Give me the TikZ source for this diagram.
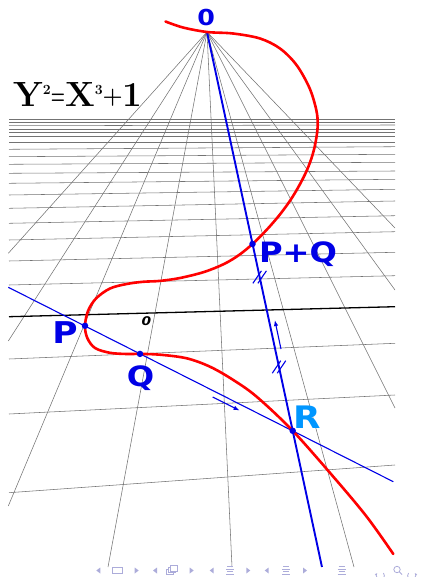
\documentclass[tikz,border=0pt]{standalone}
\usepackage{fontspec}
\usetikzlibrary{arrows.meta,calc}
\newfontfamily\lblfont[FakeStretch=1.15]{DejaVu Sans}
\newcommand\lblat[1]{\lblfont\bfseries\fontsize{#1}{#1}\selectfont}
\newcommand\supat[1]{\raisebox{12pt}{\fontsize{14}{14}\selectfont #1}}
\definecolor{ptblue}{RGB}{0,0,230}
\definecolor{rblue}{RGB}{0,150,255}
\definecolor{navcol}{RGB}{172,172,218}

\begin{document}
\begin{tikzpicture}[x=1pt, y=-1pt,
  gridln/.style={black!55, line width=0.55pt},
  axisln/.style={black, line width=1.3pt},
  curve/.style={red, line width=2.6pt, line cap=round},
  vline/.style={ptblue, line width=1.9pt},
  secant/.style={ptblue, line width=1.1pt},
  pt/.style={circle, fill=ptblue, inner sep=0pt, minimum size=6.5pt},
  lbl/.style={text=ptblue, font=\lblat{#1}, inner sep=0pt, anchor=base},
  lbl/.default=30,
  tick/.style={ptblue, line width=1.1pt},
  dirarrow/.style={ptblue, line width=1.1pt, -{Latex[length=6pt,width=4.5pt]}},
  >=Latex
]
\useasboundingbox (0,0) rectangle (420,577);

% points of the curve
\coordinate (O) at (207,32);
\coordinate (P) at (85,325.8);
\coordinate (Q) at (140,353.9);
\coordinate (R) at (292.7,430.8);
\coordinate (PQ) at (252.5,244);
\coordinate (vend) at ($(O)!1.3415!(R)$);
\coordinate (sa) at (8.3,287.3);
\coordinate (sb) at (393.3,481.7);
\coordinate (ax1) at (9,316.7);
\coordinate (ax2) at (395,306.7);

% grid
\foreach \yl/\yr in {119.3/119.3,122.7/122.7,125.7/125,129/129,132.3/132.3,
  136.7/136.7,142.3/142.3,149.3/146.7,156.7/154.3,164.3/162.3,173.3/171,
  183.3/179.3,195/189.3,208.3/201,223.3/215.7,240/231.7,261/252.3,285/275.7,
  359/343.3,414/395,492.7/465}
  \draw[gridln] (9,\yl) -- (395,\yr);
\foreach \ex/\ey in {8.3/253.3,8.3/341,8.3/506,108/567,232/567,354/567,
  395/408,395/290,395/228}
  \draw[gridln] (O) -- (\ex,\ey);
\draw[axisln] (ax1) -- (ax2);

% chord through P and Q, vertical line through R
\draw[secant] (sa) -- (sb);
\draw[vline] (O) -- (vend);
\foreach \t in {0.6145,0.84}
  \draw[tick] ($(O)!\t!(R)$) ++(-6.75,6.25) -- ++(8.5,-12.5) ++(-3.5,12.5) -- ++(8.5,-12.5);
\coordinate (ua) at (281,349);
\coordinate (ub) at (274.8,320);
\coordinate (sa2) at (212.7,397);
\coordinate (sb2) at (239.5,410.5);
\draw[dirarrow] (ua) -- (ub);
\draw[dirarrow] (sa2) -- (sb2);

% the curve
\draw[curve] plot[smooth, tension=0.55] coordinates {
  (165.5,21.5) (183,27.5) (O) (233,33.5) (260,38.5) (280,48.5) (296.5,65)
  (309.5,88) (316.3,110) (317.7,125) (316,140) (312.5,155) (307,170)
  (299.5,185) (290.5,200) (279.5,215) (266.5,230) (PQ) (239,255)
  (224,264) (204,272) (180,278) (160,280.9) (143,281.8) (126.7,284)
  (110,288.5) (96,298.5) (88,311) (P) (87.3,338) (95,348) (110,352.8)
  (126.7,354) (Q) (160,354.7) (186.7,358.3) (210,366.7) (233.3,380)
  (257,397) (R) (333.3,476.7) (366.7,516.7) (393.3,554)};

\foreach \n in {P,Q,R,PQ}
  \node[pt] at (\n) {};

% labels
\node[lbl=22] (lo) at (206.2,25.3) {0};
\node[lbl=30] (lp) at (65,343.3) {P};
\node[lbl=28] (lq) at (140.5,386) {Q};
\node[lbl=28] (lpq) at (298,262.7) {P+Q};
\node[lbl=31, text=rblue] (lr) at (307.5,428.5) {R};
\node[font=\lblat{12}\itshape, inner sep=0pt, anchor=base] (lorig) at (146.5,325) {0};
\node[anchor=base west, inner sep=0pt, font=\bfseries] (eqn) at (13,107)
  {\fontsize{35}{35}\selectfont Y\supat{2}\raisebox{2pt}{\scalebox{0.6}[1]{\fontsize{27}{27}\selectfont=}}X\supat{3}\raisebox{3.5pt}{\fontsize{23}{23}\selectfont+}1};

% navigation symbols
\foreach \x in {98.3,155,211.7,266.7}
  \fill[navcol] (\x-2,570.5) -- (\x+2,567.5) -- (\x+2,573.5) -- cycle;
\foreach \x in {136.7,191.7,248.3,305}
  \fill[navcol] (\x+2,570.5) -- (\x-2,567.5) -- (\x-2,573.5) -- cycle;
\draw[navcol, line width=0.7pt] (112.3,567.5) rectangle (122.3,573.5);
\foreach \d in {0,1.8,3.6}
  \draw[navcol, line width=0.7pt, fill=white] (166.5+\d,574.5-\d) rectangle (173.5+\d,569-\d);
\foreach \x in {230,286,341.7}
  \foreach \yy/\w in {566.5/3,569.2/4,571.8/3,574.5/4}
    \draw[navcol, line width=0.7pt] (\x-\w,\yy) -- (\x+\w,\yy);
\draw[navcol, line width=0.8pt, -{Latex[length=2.5pt,width=2.5pt]}] (383.5,573) arc[start angle=-40, end angle=220, radius=4];
\draw[navcol, line width=0.8pt] (397,569.5) circle[radius=3.2] (399.3,571.8) -- (402,574.5);
\draw[navcol, line width=0.8pt, -{Latex[length=2.5pt,width=2.5pt]}] (408.5,573) arc[start angle=220, end angle=-40, radius=4];
\end{tikzpicture}
\end{document}
